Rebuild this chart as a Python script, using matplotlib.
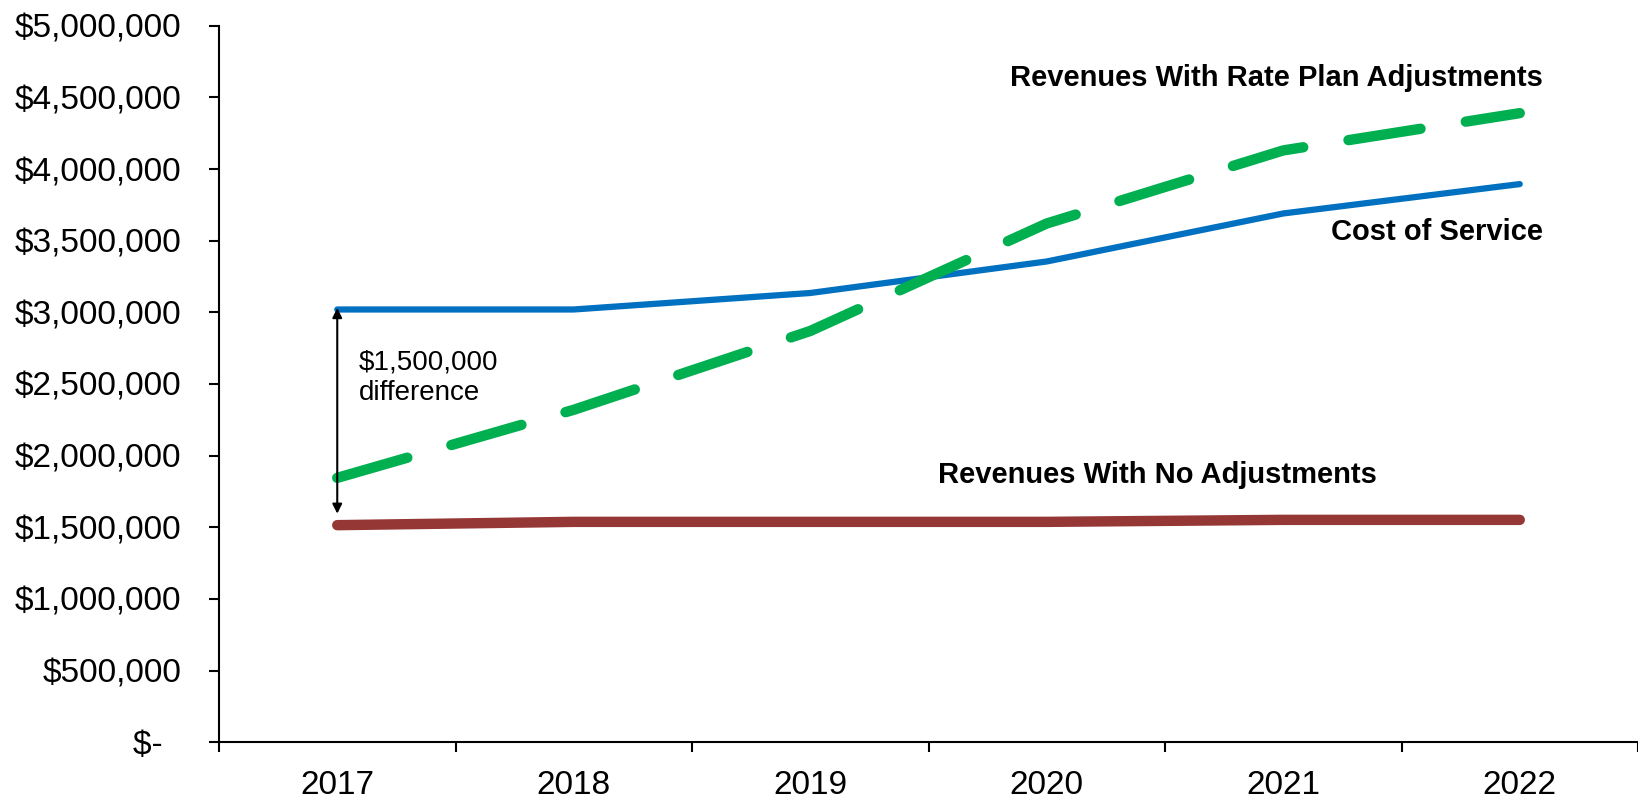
import matplotlib.pyplot as plt
from matplotlib import rcParams

rcParams.update({
    "font.family": ['Liberation Sans', 'DejaVu Sans'],
    "font.size": 24,
})

# data
years = ['2017', '2018', '2019', '2020', '2021', '2022']
cost_of_service = [3020000, 3020000, 3135000, 3355000, 3690000, 3895000]
rev_rate_plan = [1845000, 2320000, 2870000, 3620000, 4130000, 4390000]
rev_no_adj = [1515000, 1538000, 1538000, 1538000, 1552000, 1552000]

y_ticks = [0, 500000, 1000000, 1500000, 2000000, 2500000, 3000000, 3500000, 4000000, 4500000, 5000000]
y_labels = ['$-  ', '$500,000', '$1,000,000', '$1,500,000', '$2,000,000', '$2,500,000',
            '$3,000,000', '$3,500,000', '$4,000,000', '$4,500,000', '$5,000,000']

blue = '#0070C0'
green = '#00B050'
red = '#953735'

fig = plt.figure(figsize=(16.38, 7.99), dpi=100)
ax = fig.add_axes([0.1337, 0.071, 0.8663, 0.8968])

x = list(range(len(years)))
ax.plot(x, rev_no_adj, color=red, lw=7.5, solid_capstyle='round')
ax.plot(x, cost_of_service, color=blue, lw=4.5, solid_capstyle='round')
ax.plot(x, rev_rate_plan, color=green, lw=7.5, dashes=(7.0, 4.4), dash_capstyle='round')

# difference arrow
ax.annotate('', xy=(0, rev_no_adj[0] + 80000), xytext=(0, cost_of_service[0] + 10000),
            arrowprops=dict(arrowstyle='<|-|>', color='k', lw=1.5, mutation_scale=14,
                            shrinkA=0, shrinkB=0))
ax.text(0.09, 2545000, '$1,500,000\ndifference', fontsize=20, va='center', ha='left',
        linespacing=1.2)

# series labels
bold = dict(fontsize=21, fontweight='bold', ha='center', va='center')
ax.text(3.97, 4636000, 'Revenues With Rate Plan Adjustments', **bold)
ax.text(4.65, 3562000, 'Cost of Service', **bold)
ax.text(3.47, 1866000, 'Revenues With No Adjustments', **bold)

ax.set_xlim(-0.5, 5.5)
ax.set_ylim(0, 5000000)
ax.set_yticks(y_ticks)
ax.set_yticklabels(y_labels)
ax.set_xticks(x)
ax.set_xticklabels(years)
ax.set_xticks([i - 0.5 for i in range(len(years) + 1)], minor=True)

ax.tick_params(axis='x', which='major', length=0, pad=20)
ax.tick_params(axis='x', which='minor', length=7, width=1.5, direction='out')
ax.tick_params(axis='y', length=7, width=1.5, direction='out', pad=20)

for s in ['top', 'right']:
    ax.spines[s].set_visible(False)
for s in ['left', 'bottom']:
    ax.spines[s].set_linewidth(1.5)

fig.savefig('out.png', dpi=100)
